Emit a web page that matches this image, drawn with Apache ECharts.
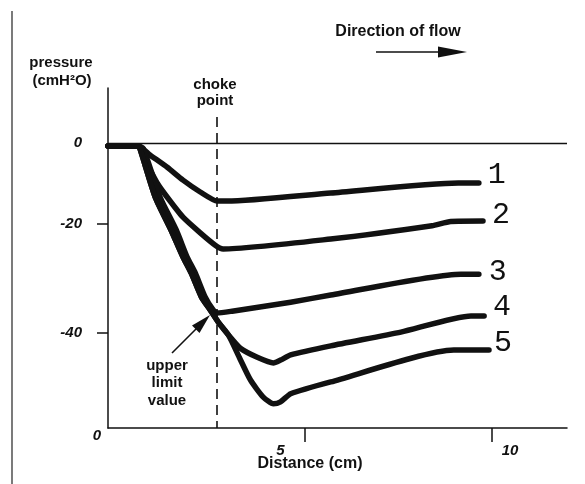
<!DOCTYPE html>
<html><head><meta charset="utf-8">
<script src="https://cdn.jsdelivr.net/npm/echarts@6/dist/echarts.min.js"></script>
<style>html,body{margin:0;padding:0;background:#fff}#c{width:585px;height:484px}</style>
</head><body><div id="c"></div>
<script>
// ---- data (distance in cm, pressure in cmH2O) ----
const seriesNames = ['1', '2', '3', '4', '5'];
const curve1 = [[-0.24,-0.6],[0.56,-0.6],[0.88,-2.5],[1.34,-5.1],[1.76,-7.8],[2.22,-10.3],[2.67,-12.2],[2.94,-12.2],[5.70,-10.5],[9.10,-8.4],[9.65,-8.4]];
const curve2 = [[-0.24,-0.6],[0.56,-0.6],[0.75,-3.6],[1.07,-8.4],[1.34,-11.4],[1.76,-15.6],[2.22,-18.9],[2.62,-21.5],[2.83,-22.3],[5.70,-20.2],[8.40,-17.4],[8.90,-16.5],[9.76,-16.4]];
const curve3 = [[-0.24,-0.6],[0.56,-0.6],[0.70,-1.1],[1.15,-11.4],[1.58,-18.3],[1.87,-24.0],[2.09,-27.4],[2.35,-32.4],[2.57,-35.2],[2.67,-35.8],[3.07,-35.4],[4.63,-33.5],[5.70,-32.0],[9.17,-27.6],[9.65,-27.6]];
const curve4 = [[-0.24,-0.6],[0.56,-0.6],[0.61,-1.1],[1.02,-11.4],[1.44,-18.3],[1.76,-24.0],[1.98,-27.4],[2.25,-32.4],[2.49,-35.2],[2.70,-37.7],[2.97,-40.4],[3.29,-43.2],[3.74,-45.1],[4.17,-46.3],[4.36,-45.7],[4.63,-44.6],[5.70,-42.7],[7.57,-39.8],[9.44,-36.4],[9.79,-36.4]];
const curve5 = [[-0.24,-0.6],[0.56,-0.6],[0.61,-1.1],[1.02,-11.4],[1.44,-18.3],[1.76,-24.0],[1.98,-27.4],[2.25,-32.4],[2.49,-35.2],[2.70,-37.7],[2.97,-40.4],[3.26,-45.1],[3.56,-49.9],[3.90,-53.5],[4.17,-54.9],[4.36,-54.5],[4.63,-52.8],[5.70,-50.3],[8.98,-43.6],[9.92,-43.6]];
const chokePoint = 2.67;            // cm
const xTickValues = [5, 10];
const xLabelValues = [4.36, 10.48];
const xTickLabels = ['5', '10'];
const yTickValues = [-17.05, -40];
const yLabelValues = [0, -17.05, -40];
const yTickLabels = ['0', '-20', '-40'];

// ---- styles ----
const curves = [curve1, curve2, curve3, curve4, curve5];
const endOffsets = [[18,-8],[18,-6],[19,-2],[18,-9],[14,-7]];
const sans = '"Liberation Sans", Arial, sans-serif';
const ink = '#111';

function nearestLabel(vals, texts, v) {
  let best = 0, d = Infinity;
  vals.forEach((x, i) => { const dd = Math.abs(x - v); if (dd < d) { d = dd; best = i; } });
  return texts[best];
}

const chart = echarts.init(document.getElementById('c'), null, {renderer: 'canvas'});

const series = curves.map((c, i) => ({
  name: seriesNames[i],
  type: 'line',
  data: c,
  showSymbol: false,
  symbol: 'none',
  smooth: 0.2,
  silent: true,
  z: 3,
  lineStyle: {color: ink, width: 5.5, cap: 'round', join: 'round'},
  endLabel: {
    show: true, formatter: '{a}', align: 'center', distance: 0,
    offset: endOffsets[i],
    fontFamily: '"Liberation Mono", "Courier New", monospace',
    fontSize: 30, color: ink
  }
}));

series[0].markLine = {
  silent: true, symbol: 'none', animation: false,
  label: {show: false},
  data: [
    {yAxis: 0, lineStyle: {color: ink, width: 1.3, type: 'solid'}},
    [{coord: [chokePoint, 5.5], lineStyle: {color: ink, width: 1.6, type: [10, 6]}}, {coord: [chokePoint, -60]}]
  ]
};

function txt(text, x, y, size, opts) {
  return {
    type: 'text', silent: true, z: 10,
    style: Object.assign({
      text: text, x: x, y: y, align: 'center', verticalAlign: 'middle',
      fontFamily: sans, fontSize: size, fontWeight: 'bold', fill: ink
    }, opts || {})
  };
}

const option = {
  animation: false,
  backgroundColor: '#fff',
  grid: {left: 108, right: 18, top: 88, bottom: 56, containLabel: false},
  xAxis: {
    type: 'value', min: -0.24, max: 12,
    axisLine: {show: true, onZero: false, lineStyle: {color: ink, width: 1.5}},
    axisTick: {show: true, customValues: xTickValues, length: 14, lineStyle: {color: ink, width: 1.5}},
    axisLabel: {
      show: true, customValues: xLabelValues, margin: 15,
      formatter: v => nearestLabel(xLabelValues, xTickLabels, v),
      fontFamily: sans, fontSize: 15, fontWeight: 'bold', fontStyle: 'italic', color: ink
    },
    splitLine: {show: false}
  },
  yAxis: {
    type: 'value', min: -60, max: 11.6,
    axisLine: {show: true, onZero: false, lineStyle: {color: ink, width: 1.5}},
    axisTick: {show: true, customValues: yTickValues, length: 11, lineStyle: {color: ink, width: 1.5}},
    axisLabel: {
      show: true, customValues: yLabelValues, margin: 26,
      formatter: v => nearestLabel(yLabelValues, yTickLabels, v),
      fontFamily: sans, fontSize: 15, fontWeight: 'bold', fontStyle: 'italic', color: ink
    },
    splitLine: {show: false}
  },
  series: series,
  graphic: [
    {type: 'line', silent: true, shape: {x1: 12, y1: 11, x2: 12, y2: 484}, style: {stroke: '#333', lineWidth: 1.3}},
    txt('pressure', 61, 63, 15),
    txt('(cmH²O)', 62, 81, 15),
    txt('choke', 215, 85, 15),
    txt('point', 215, 101, 15),
    txt('Direction of flow', 398, 32, 16),
    {type: 'line', silent: true, shape: {x1: 376, y1: 52, x2: 445, y2: 52}, style: {stroke: ink, lineWidth: 1.6}},
    {type: 'polygon', silent: true, shape: {points: [[438, 46.5], [467, 52], [438, 57.5]]}, style: {fill: ink}},
    txt('Distance (cm)', 310, 464, 16),
    txt('upper', 167, 366, 15),
    txt('limit', 167, 383, 15),
    txt('value', 167, 401, 15),
    {type: 'line', silent: true, shape: {x1: 172, y1: 353, x2: 197, y2: 328}, style: {stroke: ink, lineWidth: 1.6}},
    {type: 'polygon', silent: true, shape: {points: [[210, 315], [199.5, 333], [192, 325.5]]}, style: {fill: ink}},
    txt('0', 97, 436, 15, {fontStyle: 'italic'})
  ]
};
chart.setOption(option);
</script>
</body></html>
